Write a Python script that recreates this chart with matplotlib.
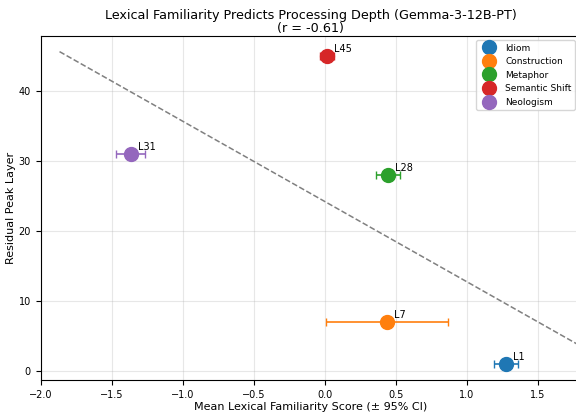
import numpy as np
import matplotlib
matplotlib.use("Agg")
import matplotlib.pyplot as plt

# per-category means, CI half-widths and residual peak layers
categories = ["Idiom", "Construction", "Metaphor", "Semantic Shift", "Neologism"]
layer_tags = ["L1", "L7", "L28", "L45", "L31"]
familiarity = [1.275, 0.437, 0.444, 0.014, -1.366]
ci_half = [0.085, 0.43, 0.085, 0.05, 0.10]
peak_layer = [1, 7, 28, 45, 31]
colors = ["#1f77b4", "#ff7f0e", "#2ca02c", "#d62728", "#9467bd"]

x = np.array(familiarity)
y = np.array(peak_layer)
r = np.corrcoef(x, y)[0, 1]
slope, icpt = np.polyfit(x, y, 1)

fig = plt.figure(figsize=(5.76, 4.16), dpi=100)
ax = fig.add_axes([40.5 / 576, 36 / 416, 540 / 576, 344 / 416])

for cat, tag, xi, ei, yi, c in zip(categories, layer_tags, familiarity, ci_half, peak_layer, colors):
    ax.errorbar(xi, yi, xerr=ei, fmt="o", color=c, markersize=10, capsize=3,
                elinewidth=1.2, label=cat, zorder=3)
    ax.annotate(tag, (xi, yi), xytext=(5, 3), textcoords="offset points", fontsize=7)

xs = np.linspace(x.min() - 0.5, x.max() + 0.5, 50)
ax.plot(xs, slope * xs + icpt, "--", color="gray", lw=1.1, zorder=2)

ax.set_xlim(-2.0, 1.8)
ax.set_xticks([-2.0, -1.5, -1.0, -0.5, 0.0, 0.5, 1.0, 1.5])
ax.tick_params(labelsize=7)
ax.grid(True, alpha=0.3)
ax.set_xlabel("Mean Lexical Familiarity Score (± 95% CI)", fontsize=8, labelpad=2)
ax.set_ylabel("Residual Peak Layer", fontsize=8, labelpad=2)
ax.set_title(f"Lexical Familiarity Predicts Processing Depth (Gemma-3-12B-PT)\n(r = {r:.2f})",
             fontsize=9.2, pad=3, linespacing=1.0)
ax.legend(loc="upper right", bbox_to_anchor=(575 / 576, 1 - 40 / 416),
          bbox_transform=fig.transFigure, fontsize=6.5, borderaxespad=0)

fig.savefig("out.png", dpi=100)
